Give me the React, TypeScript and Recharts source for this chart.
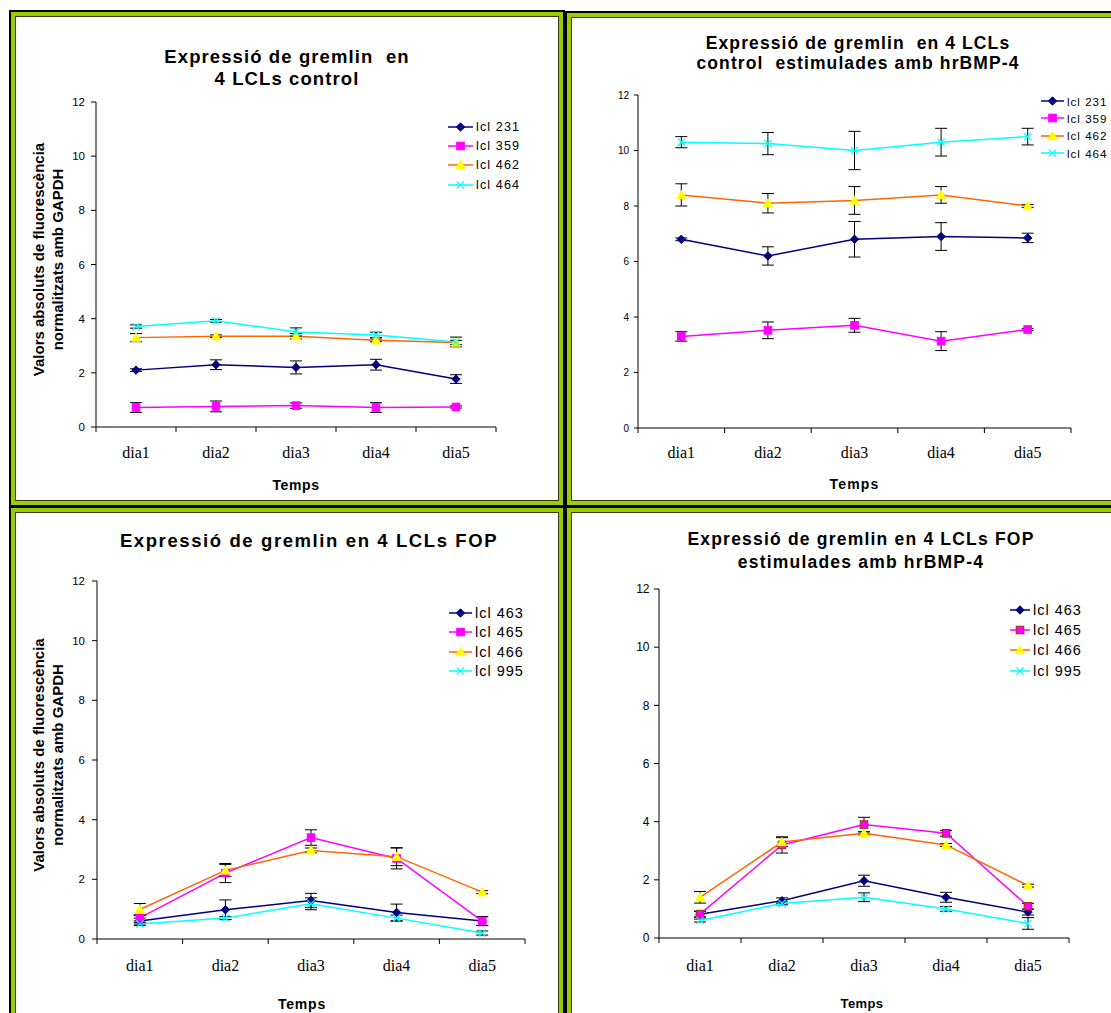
import React from "react";
import { LineChart, Line, XAxis, YAxis, ErrorBar, Legend } from "recharts";

// shared categories and ticks
const days = ["dia1", "dia2", "dia3", "dia4", "dia5"];
const dayEdges = [0, 1, 2, 3, 4, 5];
const yTicks = [0, 2, 4, 6, 8, 10, 12];

const ctrlNames = ["lcl 231", "lcl 359", "lcl 462", "lcl 464"];
const fopNames = ["lcl 463", "lcl 465", "lcl 466", "lcl 995"];

// panel 1: control LCLs
const ctrl231 = [2.1, 2.3, 2.2, 2.3, 1.77];
const ctrl231Err = [0.05, 0.18, 0.24, 0.2, 0.16];
const ctrl359 = [0.72, 0.76, 0.79, 0.72, 0.74];
const ctrl359Err = [0.18, 0.2, 0.1, 0.18, 0.04];
const ctrl462 = [3.3, 3.35, 3.35, 3.2, 3.12];
const ctrl462Err = [0.15, 0.05, 0.1, 0.05, 0.08];
const ctrl464 = [3.71, 3.92, 3.51, 3.4, 3.14];
const ctrl464Err = [0.06, 0.05, 0.15, 0.1, 0.18];

// panel 2: control LCLs + hrBMP-4
const bmp231 = [6.8, 6.2, 6.8, 6.9, 6.85];
const bmp231Err = [0.05, 0.33, 0.64, 0.5, 0.17];
const bmp359 = [3.3, 3.52, 3.7, 3.13, 3.55];
const bmp359Err = [0.17, 0.3, 0.25, 0.34, 0.04];
const bmp462 = [8.4, 8.1, 8.2, 8.4, 8.0];
const bmp462Err = [0.4, 0.35, 0.5, 0.3, 0.05];
const bmp464 = [10.3, 10.25, 10.0, 10.3, 10.5];
const bmp464Err = [0.2, 0.4, 0.69, 0.5, 0.3];

// panel 3: FOP LCLs
const fop463 = [0.6, 0.98, 1.29, 0.89, 0.6];
const fop463Err = [0.1, 0.33, 0.24, 0.28, 0.15];
const fop465 = [0.71, 2.21, 3.4, 2.7, 0.6];
const fop465Err = [0.1, 0.32, 0.26, 0.35, 0.15];
const fop466 = [0.99, 2.3, 2.97, 2.76, 1.57];
const fop466Err = [0.2, 0.2, 0.08, 0.3, 0.05];
const fop995 = [0.5, 0.7, 1.18, 0.7, 0.2];
const fop995Err = [0.05, 0.05, 0.2, 0.1, 0.07];

// panel 4: FOP LCLs + hrBMP-4
const fopBmp463 = [0.82, 1.28, 1.97, 1.4, 0.89];
const fopBmp463Err = [0.1, 0.1, 0.19, 0.17, 0.1];
const fopBmp465 = [0.82, 3.2, 3.9, 3.6, 1.09];
const fopBmp465Err = [0.1, 0.28, 0.25, 0.1, 0.1];
const fopBmp466 = [1.4, 3.3, 3.6, 3.2, 1.8];
const fopBmp466Err = [0.2, 0.15, 0.05, 0.05, 0.05];
const fopBmp995 = [0.6, 1.19, 1.4, 1.0, 0.5];
const fopBmp995Err = [0.05, 0.05, 0.15, 0.08, 0.2];

const SANS = '"Liberation Sans", Arial, sans-serif';
const SERIF = '"Liberation Serif", "Times New Roman", serif';

type Kind = "diamond" | "square" | "triangle" | "cross";
type Look = { line: string; kind: Kind; fill: string; edge: string };

const navy: Look = { line: "#000080", kind: "diamond", fill: "#000080", edge: "#000080" };
const magenta: Look = { line: "#FF00FF", kind: "square", fill: "#FF00FF", edge: "#FF00FF" };
const magentaEdged: Look = { line: "#FF00FF", kind: "square", fill: "#FF00FF", edge: "#993300" };
const orange: Look = { line: "#FF6600", kind: "triangle", fill: "#FFFF00", edge: "#FFFF00" };
const cyan: Look = { line: "#00FFFF", kind: "cross", fill: "none", edge: "#00FFFF" };

type Series = { name: string; values: number[]; errors: number[]; look: Look };

function Marker({ kind, cx, cy, fill, edge }: { kind: Kind; cx?: number; cy?: number; fill: string; edge: string }) {
  if (cx == null || cy == null) return <g />;
  if (kind === "diamond") {
    const s = 4.2;
    return <polygon points={`${cx},${cy - s} ${cx + s},${cy} ${cx},${cy + s} ${cx - s},${cy}`} fill={fill} stroke={edge} />;
  }
  if (kind === "square") {
    const s = 3.8;
    return <rect x={cx - s} y={cy - s} width={s * 2} height={s * 2} fill={fill} stroke={edge} strokeWidth={1} />;
  }
  if (kind === "triangle") {
    const s = 4.6;
    return <polygon points={`${cx},${cy - s} ${cx + s},${cy + s * 0.8} ${cx - s},${cy + s * 0.8}`} fill={fill} stroke={edge} />;
  }
  const s = 3.6;
  return (
    <g stroke={edge} strokeWidth={1.2}>
      <line x1={cx - s} y1={cy - s} x2={cx + s} y2={cy + s} />
      <line x1={cx - s} y1={cy + s} x2={cx + s} y2={cy - s} />
    </g>
  );
}

type PanelCfg = {
  id: string;
  frame: { left: number; top: number; width: number; height: number };
  title: string[];
  titleX: number;
  titleY: number;
  titleLine: number;
  titleSize: number;
  titleLs: number;
  x0: number;
  x1: number;
  yTop: number;
  yBot: number;
  yTickFont: number;
  yTickSize: number;
  yTickGap: number;
  dayDy: number;
  tempsY: number;
  tempsDx: number;
  tempsSize: number;
  tempsLs: number;
  yTitle: boolean;
  legX: number;
  legY: number;
  legRow: number;
  legFont: number;
  legLs: number;
  legLine: number;
  series: Series[];
};

const mk = (names: string[], vals: number[][], errs: number[][], looks: Look[]): Series[] =>
  names.map((n, i) => ({ name: n, values: vals[i], errors: errs[i], look: looks[i] }));

const panels: PanelCfg[] = [
  {
    id: "ctrl",
    frame: { left: 9, top: 10, width: 556, height: 497 },
    title: ["Expressió de gremlin  en", "4 LCLs control"],
    titleX: 287, titleY: 57, titleLine: 22, titleSize: 18.5, titleLs: 1.1,
    x0: 96, x1: 496, yTop: 102, yBot: 427,
    yTickFont: 11.5, yTickSize: 5, yTickGap: 6,
    dayDy: 25.5,
    tempsY: 485, tempsDx: 0, tempsSize: 14, tempsLs: 0.6,
    yTitle: true,
    legX: 448, legY: 117.5, legRow: 19.2, legFont: 12.6, legLs: 1.1, legLine: 25,
    series: mk(ctrlNames, [ctrl231, ctrl359, ctrl462, ctrl464], [ctrl231Err, ctrl359Err, ctrl462Err, ctrl464Err], [navy, magenta, orange, cyan]),
  },
  {
    id: "ctrlBmp",
    frame: { left: 565, top: 11, width: 560, height: 496 },
    title: ["Expressió de gremlin  en 4 LCLs", "control  estimulades amb hrBMP-4"],
    titleX: 858, titleY: 43, titleLine: 20, titleSize: 17.5, titleLs: 1.1,
    x0: 638, x1: 1071, yTop: 95, yBot: 428,
    yTickFont: 10, yTickSize: 4, yTickGap: 5,
    dayDy: 24.5,
    tempsY: 484, tempsDx: 0, tempsSize: 14, tempsLs: 1.2,
    yTitle: false,
    legX: 1041, legY: 92.5, legRow: 17.3, legFont: 11.6, legLs: 1.0, legLine: 23,
    series: mk(ctrlNames, [bmp231, bmp359, bmp462, bmp464], [bmp231Err, bmp359Err, bmp462Err, bmp464Err], [navy, magenta, orange, cyan]),
  },
  {
    id: "fop",
    frame: { left: 9, top: 506, width: 556, height: 520 },
    title: ["Expressió de gremlin en 4 LCLs FOP"],
    titleX: 309, titleY: 541, titleLine: 22, titleSize: 18.5, titleLs: 1.6,
    x0: 97, x1: 525, yTop: 581, yBot: 939,
    yTickFont: 11.5, yTickSize: 5, yTickGap: 7,
    dayDy: 26.5,
    tempsY: 1004, tempsDx: -9, tempsSize: 14, tempsLs: 0.8,
    yTitle: true,
    legX: 449, legY: 603.5, legRow: 19.3, legFont: 14.5, legLs: 1.0, legLine: 23,
    series: mk(fopNames, [fop463, fop465, fop466, fop995], [fop463Err, fop465Err, fop466Err, fop995Err], [navy, magenta, orange, cyan]),
  },
  {
    id: "fopBmp",
    frame: { left: 565, top: 506, width: 560, height: 520 },
    title: ["Expressió de gremlin en 4 LCLs FOP", "estimulades amb hrBMP-4"],
    titleX: 861, titleY: 539, titleLine: 23, titleSize: 17.5, titleLs: 1.2,
    x0: 659, x1: 1069, yTop: 589, yBot: 938,
    yTickFont: 12, yTickSize: 5, yTickGap: 4.5,
    dayDy: 27.5,
    tempsY: 1003, tempsDx: -2, tempsSize: 13, tempsLs: 0.4,
    yTitle: false,
    legX: 1010, legY: 600, legRow: 20.2, legFont: 14.5, legLs: 1.0, legLine: 20,
    series: mk(fopNames, [fopBmp463, fopBmp465, fopBmp466, fopBmp995], [fopBmp463Err, fopBmp465Err, fopBmp466Err, fopBmp995Err], [navy, magentaEdged, orange, cyan]),
  },
];

function Frame({ left, top, width, height }: { left: number; top: number; width: number; height: number }) {
  return (
    <div style={{ position: "absolute", left, top, width, height, boxSizing: "border-box", border: "2px solid #000", background: "#fff" }}>
      <div style={{ position: "absolute", inset: 0, border: "4px solid #99CC00" }}>
        <div style={{ position: "absolute", inset: 0, border: "1px solid #3a3a10" }} />
      </div>
    </div>
  );
}

function LegendBox({ p }: { p: PanelCfg }) {
  return (
    <div style={{ fontFamily: SANS, fontSize: p.legFont, letterSpacing: p.legLs, color: "#000" }}>
      {p.series.map((s) => (
        <div key={s.name} style={{ display: "flex", alignItems: "center", height: p.legRow, whiteSpace: "nowrap" }}>
          <svg width={p.legLine} height={12} style={{ display: "block" }}>
            <line x1={0} y1={6} x2={p.legLine} y2={6} stroke={s.look.line} strokeWidth={1.5} />
            <Marker kind={s.look.kind} cx={p.legLine / 2} cy={6} fill={s.look.fill} edge={s.look.edge} />
          </svg>
          <span style={{ marginLeft: 3 }}>{s.name}</span>
        </div>
      ))}
    </div>
  );
}

function Panel({ p }: { p: PanelCfg }) {
  const yW = 90;
  const padTop = 10;
  const axisH = 80;
  const plotW = p.x1 - p.x0;
  const plotH = p.yBot - p.yTop;
  const left = p.x0 - yW;
  const top = p.yTop - padTop;
  const half = plotW / 10;

  const rows = days.map((d, i) => {
    const row: Record<string, number | string> = { day: d, pos: i + 0.5 };
    p.series.forEach((s, k) => {
      row[`v${k}`] = s.values[i];
      row[`e${k}`] = s.errors[i];
    });
    return row;
  });

  const tempsX = (p.x0 + p.x1) / 2 + p.tempsDx - left;
  const tempsBase = p.tempsY + p.tempsSize * 0.36 - top;
  const yTitleY = (p.yTop + p.yBot) / 2 - top - 5;

  return (
    <div style={{ position: "absolute", left, top }}>
      <LineChart width={yW + plotW + 12} height={padTop + plotH + axisH} data={rows} margin={{ top: padTop, right: 12, bottom: 0, left: 0 }}>
        <XAxis
          type="number"
          dataKey="pos"
          domain={[0, 5]}
          ticks={dayEdges}
          interval={0}
          height={axisH}
          tickSize={5}
          axisLine={{ stroke: "#000" }}
          tickLine={{ stroke: "#000" }}
          tick={(tp: any) => {
            const label = days[tp.payload.value];
            if (!label) return <g key={`t-${tp.index}`} />;
            return (
              <text key={`t-${tp.index}`} x={tp.x + half} y={tp.y + p.dayDy - 2} textAnchor="middle" fontFamily={SERIF} fontSize={16} fill="#000">
                {label}
              </text>
            );
          }}
          label={() => (
            <text x={tempsX} y={tempsBase} textAnchor="middle" fontFamily={SANS} fontWeight="bold" fontSize={p.tempsSize} letterSpacing={p.tempsLs} fill="#000">
              Temps
            </text>
          )}
        />
        <YAxis
          type="number"
          domain={[0, 12]}
          ticks={yTicks}
          interval={0}
          width={yW}
          tickSize={p.yTickSize}
          tickMargin={p.yTickGap}
          axisLine={{ stroke: "#000" }}
          tickLine={{ stroke: "#000" }}
          tick={{ fontFamily: SANS, fontSize: p.yTickFont, fill: "#000" }}
          label={
            p.yTitle
              ? () => (
                  <g fontFamily={SANS} fontWeight="bold" fontSize={15} fill="#000">
                    <text x={39 + 5.3 - left} y={yTitleY} textAnchor="middle" transform={`rotate(-90, ${39 + 5.3 - left}, ${yTitleY})`}>
                      Valors absoluts de fluorescència
                    </text>
                    <text x={57.5 + 5.3 - left} y={yTitleY} textAnchor="middle" transform={`rotate(-90, ${57.5 + 5.3 - left}, ${yTitleY})`}>
                      normalitzats amb GAPDH
                    </text>
                  </g>
                )
              : undefined
          }
        />
        <Legend
          layout="vertical"
          align="center"
          verticalAlign="middle"
          wrapperStyle={{ left: p.legX - left, top: p.legY - top, width: 100 }}
          content={() => <LegendBox p={p} />}
        />
        {p.series.map((s, k) => (
          <Line
            key={s.name}
            name={s.name}
            type="linear"
            dataKey={`v${k}`}
            stroke={s.look.line}
            strokeWidth={1.5}
            isAnimationActive={false}
            activeDot={false}
            dot={(dp: any) => (
              <Marker key={`${p.id}-${k}-${dp.index}`} kind={s.look.kind} cx={dp.cx} cy={dp.cy} fill={s.look.fill} edge={s.look.edge} />
            )}
          >
            <ErrorBar dataKey={`e${k}`} direction="y" width={6} stroke="#000" strokeWidth={1} isAnimationActive={false} />
          </Line>
        ))}
      </LineChart>
    </div>
  );
}

export default function App() {
  return (
    <div style={{ position: "absolute", left: 0, top: 0, width: 1111, height: 1013, overflow: "hidden", background: "#fff" }}>
      {panels.map((p) => (
        <Frame key={`f-${p.id}`} {...p.frame} />
      ))}
      {panels.map((p) => (
        <div
          key={`t-${p.id}`}
          style={{
            position: "absolute",
            left: p.titleX - 260,
            top: p.titleY - p.titleLine / 2,
            width: 520,
            textAlign: "center",
            fontFamily: SANS,
            fontWeight: "bold",
            fontSize: p.titleSize,
            letterSpacing: p.titleLs,
            lineHeight: `${p.titleLine}px`,
            whiteSpace: "pre",
            color: "#000",
          }}
        >
          {p.title.join("\n")}
        </div>
      ))}
      {panels.map((p) => (
        <Panel key={p.id} p={p} />
      ))}
    </div>
  );
}
